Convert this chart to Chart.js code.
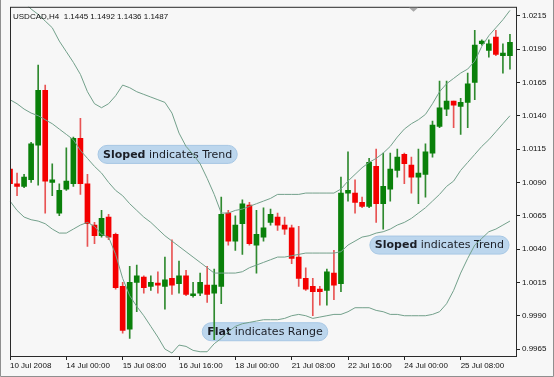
<!DOCTYPE html>
<html>
<head>
<meta charset="utf-8">
<script src="https://cdn.jsdelivr.net/npm/chart.js@4.4.1/dist/chart.umd.min.js"></script>
<style>
    html, body { margin: 0; padding: 0; background: #f7f7f7; }
    #caixa { width: 554px; height: 377px; position: relative; }
</style>
</head>
<body>
<div id="caixa"><canvas id="grafico"></canvas></div>
<script>
// USDCAD H4, 10 Jul 2008 - 25 Jul 2008
const open  = [1.0100, 1.0089, 1.0087, 1.0092, 1.0118, 1.0159, 1.0090, 1.0067, 1.0085, 1.0089,
               1.0123, 1.0089, 1.0058, 1.0050, 1.0064, 1.0051, 1.0012, 0.9980, 1.0015, 1.0019,
               1.0012, 1.0014, 1.0012, 1.0018, 1.0014, 1.0020, 1.0005, 1.0007, 1.0013, 1.0007,
               1.0012, 1.0067, 1.0046, 1.0059, 1.0073, 1.0043, 1.0049, 1.0060, 1.0064, 1.0058,
               1.0056, 1.0034, 1.0018, 1.0012, 1.0010, 1.0009, 1.0022, 1.0014, 1.0082, 1.0082,
               1.0075, 1.0072, 1.0102, 1.0074, 1.0085, 1.0099, 1.0111, 1.0103, 1.0094, 1.0096,
               1.0112, 1.0132, 1.0145, 1.0151, 1.0147, 1.0150, 1.0165, 1.0194, 1.0189, 1.0199,
               1.0185, 1.0185];
const high  = [1.0108, 1.0097, 1.0096, 1.0120, 1.0178, 1.0163, 1.0104, 1.0089, 1.0116, 1.0124,
               1.0138, 1.0096, 1.0060, 1.0069, 1.0066, 1.0052, 1.0015, 1.0027, 1.0028, 1.0020,
               1.0020, 1.0023, 1.0034, 1.0047, 1.0031, 1.0024, 1.0015, 1.0022, 1.0027, 1.0025,
               1.0079, 1.0069, 1.0065, 1.0077, 1.0075, 1.0069, 1.0071, 1.0070, 1.0067, 1.0064,
               1.0058, 1.0057, 1.0026, 1.0018, 1.0012, 1.0025, 1.0039, 1.0094, 1.0113, 1.0092,
               1.0079, 1.0108, 1.0115, 1.0112, 1.0112, 1.0115, 1.0112, 1.0109, 1.0115, 1.0119,
               1.0136, 1.0166, 1.0166, 1.0151, 1.0153, 1.0172, 1.0204, 1.0197, 1.0197, 1.0204,
               1.0194, 1.0201];
const low   = [1.0082, 1.0080, 1.0086, 1.0090, 1.0088, 1.0067, 1.0080, 1.0065, 1.0084, 1.0087,
               1.0081, 1.0042, 1.0044, 1.0049, 1.0047, 1.0010, 0.9977, 0.9973, 0.9993, 1.0007,
               1.0009, 1.0007, 0.9995, 1.0006, 1.0007, 1.0005, 1.0004, 1.0005, 1.0000, 0.9972,
               0.9999, 1.0043, 1.0039, 1.0036, 1.0043, 1.0022, 1.0046, 1.0058, 1.0054, 1.0051,
               1.0029, 1.0012, 1.0009, 0.9990, 0.9998, 0.9998, 1.0002, 1.0008, 1.0076, 1.0067,
               1.0071, 1.0071, 1.0060, 1.0055, 1.0076, 1.0094, 1.0089, 1.0082, 1.0074, 1.0079,
               1.0109, 1.0131, 1.0140, 1.0131, 1.0126, 1.0131, 1.0152, 1.0193, 1.0184, 1.0185,
               1.0172, 1.0175];
const close = [1.0089, 1.0087, 1.0094, 1.0119, 1.0159, 1.0091, 1.0092, 1.0084, 1.0091, 1.0123,
               1.0089, 1.0059, 1.0050, 1.0063, 1.0049, 1.0011, 0.9979, 1.0015, 1.0020, 1.0011,
               1.0015, 1.0013, 1.0017, 1.0013, 1.0020, 1.0006, 1.0006, 1.0015, 1.0006, 1.0013,
               1.0066, 1.0046, 1.0058, 1.0074, 1.0044, 1.0051, 1.0056, 1.0066, 1.0058, 1.0055,
               1.0033, 1.0018, 1.0010, 1.0008, 1.0008, 1.0023, 1.0013, 1.0082, 1.0084, 1.0075,
               1.0072, 1.0105, 1.0074, 1.0087, 1.0100, 1.0109, 1.0104, 1.0094, 1.0097, 1.0113,
               1.0133, 1.0146, 1.0151, 1.0148, 1.0150, 1.0164, 1.0193, 1.0196, 1.0194, 1.0186,
               1.0187, 1.0195];

// Bollinger bands
const upperBand  = [1.0235, 1.0230, 1.0225, 1.0220, 1.0216, 1.0211, 1.0206, 1.0196, 1.0188, 1.0180,
                    1.0171, 1.0158, 1.0149, 1.0146, 1.0149, 1.0155, 1.0163, 1.0161, 1.0158, 1.0156,
                    1.0154, 1.0152, 1.0150, 1.0142, 1.0127, 1.0117, 1.0111, 1.0104, 1.0093, 1.0081,
                    1.0067, 1.0067, 1.0069, 1.0070, 1.0072, 1.0074, 1.0076, 1.0078, 1.0081, 1.0081,
                    1.0081, 1.0081, 1.0082, 1.0082, 1.0082, 1.0082, 1.0082, 1.0085, 1.0091, 1.0096,
                    1.0101, 1.0105, 1.0108, 1.0112, 1.0117, 1.0124, 1.0130, 1.0134, 1.0137, 1.0141,
                    1.0149, 1.0158, 1.0164, 1.0168, 1.0172, 1.0175, 1.0181, 1.0192, 1.0200, 1.0206,
                    1.0212, 1.0219];
const middleBand = [1.0152, 1.0149, 1.0145, 1.0142, 1.0140, 1.0137, 1.0134, 1.0130, 1.0126, 1.0122,
                    1.0114, 1.0108, 1.0102, 1.0097, 1.0090, 1.0084, 1.0080, 1.0074, 1.0069, 1.0064,
                    1.0060, 1.0055, 1.0050, 1.0046, 1.0042, 1.0038, 1.0034, 1.0030, 1.0026, 1.0022,
                    1.0022, 1.0022, 1.0022, 1.0023, 1.0026, 1.0028, 1.0030, 1.0032, 1.0034, 1.0034,
                    1.0035, 1.0036, 1.0037, 1.0037, 1.0037, 1.0037, 1.0037, 1.0038, 1.0043, 1.0046,
                    1.0049, 1.0050, 1.0052, 1.0053, 1.0055, 1.0058, 1.0060, 1.0063, 1.0067, 1.0071,
                    1.0076, 1.0081, 1.0087, 1.0091, 1.0099, 1.0105, 1.0111, 1.0117, 1.0122, 1.0128,
                    1.0134, 1.0140];
const lowerBand  = [1.0076, 1.0069, 1.0064, 1.0062, 1.0061, 1.0059, 1.0055, 1.0052, 1.0052, 1.0055,
                    1.0058, 1.0060, 1.0057, 1.0051, 1.0049, 1.0036, 1.0018, 1.0005, 0.9997, 0.9990,
                    0.9982, 0.9974, 0.9965, 0.9962, 0.9968, 0.9967, 0.9964, 0.9963, 0.9963, 0.9969,
                    0.9973, 0.9978, 0.9982, 0.9984, 0.9985, 0.9986, 0.9987, 0.9987, 0.9987, 0.9988,
                    0.9990, 0.9991, 0.9990, 0.9988, 0.9989, 0.9990, 0.9991, 0.9991, 0.9993, 0.9996,
                    0.9996, 0.9996, 0.9994, 0.9993, 0.9991, 0.9991, 0.9990, 0.9990, 0.9990, 0.9990,
                    0.9991, 0.9993, 0.9999, 1.0009, 1.0022, 1.0033, 1.0043, 1.0048, 1.0053, 1.0055,
                    1.0058, 1.0061];

const tickLabels = ['10 Jul 2008', '14 Jul 00:00', '15 Jul 08:00', '16 Jul 16:00', '18 Jul 00:00',
                    '21 Jul 08:00', '22 Jul 16:00', '24 Jul 00:00', '25 Jul 08:00'];
const tickEvery = 8;
const yTicks = [0.9965, 0.9990, 1.0015, 1.0040, 1.0065, 1.0090, 1.0115, 1.0140, 1.0165, 1.0190, 1.0215];

const cabecalho = 'USDCAD,H4  1.1445 1.1492 1.1436 1.1487';

// one empty slot after the last candle, like the terminal leaves
const categorias = Array.from({length: open.length + 1}, (_, i) => i);

const sobe = close.map((c, i) => c >= open[i]);
const corCorpo = sobe.map(s => s ? '#0a800a' : '#f40000');
const corPavio = sobe.map(s => s ? '#2f8a2f' : '#e85454');
const corBanda = '#73a08b';

// text bubbles: x in candle index, y in price
const notas = [
    {i: 12.5, p: 1.0111, forte: 'Sloped', resto: ' indicates Trend'},
    {i: 51.1, p: 1.0043, forte: 'Sloped', resto: ' indicates Trend'},
    {i: 27.3, p: 0.9978, forte: 'Flat', resto: ' indicates Range'}
];

function pilula(ctx, x, y, w, h) {
    const r = h / 2;
    ctx.beginPath();
    ctx.moveTo(x + r, y);
    ctx.lineTo(x + w - r, y);
    ctx.arc(x + w - r, y + r, r, -Math.PI / 2, Math.PI / 2);
    ctx.lineTo(x + r, y + h);
    ctx.arc(x + r, y + r, r, Math.PI / 2, Math.PI * 1.5);
    ctx.closePath();
}

const pluginNotas = {
    id: 'notas',
    beforeDatasetsDraw(chart) {
        const ctx = chart.ctx;
        const xs = chart.scales.x, ys = chart.scales.y;
        ctx.save();
        notas.forEach(function (n) {
            const x = xs.getPixelForValue(n.i);
            const y = ys.getPixelForValue(n.p);
            ctx.font = 'bold 11px "DejaVu Sans"';
            const w1 = ctx.measureText(n.forte).width;
            ctx.font = '11px "DejaVu Sans"';
            const w2 = ctx.measureText(n.resto).width;
            pilula(ctx, x, y - 9, w1 + w2 + 10, 18);
            ctx.fillStyle = '#bcd6ed';
            ctx.fill();
            ctx.strokeStyle = '#a7c7e4';
            ctx.lineWidth = 1;
            ctx.stroke();
            ctx.fillStyle = '#1b1e26';
            ctx.textBaseline = 'middle';
            ctx.font = 'bold 11px "DejaVu Sans"';
            ctx.fillText(n.forte, x + 5, y + 0.5);
            ctx.font = '11px "DejaVu Sans"';
            ctx.fillText(n.resto, x + 5 + w1, y + 0.5);
        });
        ctx.restore();
    },
    afterDraw(chart) {
        const ctx = chart.ctx;
        const a = chart.chartArea;
        ctx.save();
        // frame of the plot
        ctx.strokeStyle = '#2a2a2a';
        ctx.lineWidth = 1;
        ctx.strokeRect(a.left + 0.5, a.top + 0.5, a.right - a.left - 1, a.bottom - a.top);
        // chart shift marker
        ctx.fillStyle = '#a8a8a8';
        ctx.beginPath();
        ctx.moveTo(409, a.top + 1);
        ctx.lineTo(418, a.top + 1);
        ctx.lineTo(413.5, a.top + 5);
        ctx.closePath();
        ctx.fill();
        // header
        ctx.fillStyle = '#111';
        ctx.font = '8px "Liberation Sans"';
        ctx.textBaseline = 'alphabetic';
        ctx.fillText(cabecalho, a.left + 3, a.top + 12);
        // outer border of the picture
        ctx.strokeStyle = '#8f8f8f';
        ctx.beginPath();
        ctx.moveTo(0.5, 0);
        ctx.lineTo(0.5, chart.height - 0.5);
        ctx.lineTo(chart.width - 0.5, chart.height - 0.5);
        ctx.lineTo(chart.width - 0.5, 0);
        ctx.stroke();
        ctx.restore();
    }
};

const fonteEixo = {family: '"Liberation Sans"', size: 8};

new Chart(document.getElementById('grafico'), {
    type: 'bar',
    data: {
        labels: categorias,
        datasets: [
            {
                type: 'line', data: upperBand, borderColor: corBanda, borderWidth: 1,
                pointRadius: 0, tension: 0, fill: false, order: 0
            },
            {
                type: 'line', data: middleBand, borderColor: corBanda, borderWidth: 1,
                pointRadius: 0, tension: 0, fill: false, order: 0
            },
            {
                type: 'line', data: lowerBand, borderColor: corBanda, borderWidth: 1,
                pointRadius: 0, tension: 0, fill: false, order: 0
            },
            {
                data: open.map((o, i) => [o, close[i]]),
                backgroundColor: corCorpo,
                borderWidth: 0,
                barThickness: 5,
                minBarLength: 2,
                grouped: false,
                order: 1
            },
            {
                data: low.map((l, i) => [l, high[i]]),
                backgroundColor: corPavio,
                borderWidth: 0,
                barThickness: 1,
                grouped: false,
                order: 2
            }
        ]
    },
    options: {
        responsive: true,
        maintainAspectRatio: false,
        animation: false,
        devicePixelRatio: 1,
        layout: {padding: {left: 10, top: 5, right: 0, bottom: 0}},
        plugins: {
            legend: {display: false},
            tooltip: {enabled: false}
        },
        scales: {
            x: {
                type: 'category',
                offset: false,
                grid: {display: true, drawOnChartArea: false, drawTicks: true, tickLength: 4, offset: false, color: '#222'},
                border: {display: false},
                ticks: {
                    autoSkip: false,
                    maxRotation: 0,
                    minRotation: 0,
                    align: 'start',
                    padding: 1,
                    color: '#111',
                    font: fonteEixo,
                    callback: function (v, i) {
                        if (i % tickEvery !== 0) return null;
                        const t = tickLabels[i / tickEvery];
                        return t === undefined ? null : t;
                    }
                },
                afterFit: function (s) { s.height = 21; }
            },
            y: {
                position: 'right',
                min: 0.99598,
                max: 1.02217,
                afterBuildTicks: function (s) { s.ticks = yTicks.map(v => ({value: v})); },
                grid: {display: true, drawOnChartArea: false, drawTicks: true, tickLength: 3, color: '#222'},
                border: {display: false},
                ticks: {
                    padding: 2,
                    color: '#111',
                    font: fonteEixo,
                    callback: v => v.toFixed(4)
                },
                afterFit: function (s) { s.width = 37; }
            }
        }
    },
    plugins: [pluginNotas]
});
</script>
</body>
</html>
